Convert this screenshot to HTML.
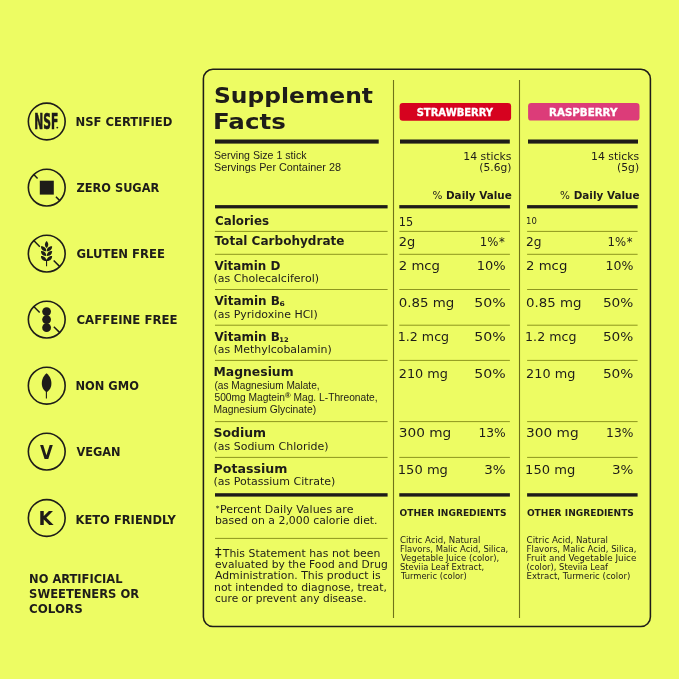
<!DOCTYPE html>
<html><head><meta charset="utf-8"><title>Supplement Facts</title>
<style>html,body{margin:0;padding:0;background:#edfc63;width:679px;height:679px;overflow:hidden}svg{display:block}</style>
</head><body><svg width="679" height="679" viewBox="0 0 679 679" font-family="'DejaVu Sans', 'Liberation Sans', sans-serif" fill="#1e1c19"><rect width="679" height="679" fill="#edfc63"/><rect x="203.4" y="69.3" width="447.0" height="557.2" rx="9.5" fill="none" stroke="#1e1c19" stroke-width="1.55"/><line x1="393.5" y1="80" x2="393.5" y2="618" stroke="#6f7219" stroke-width="1.1"/><line x1="519.5" y1="80" x2="519.5" y2="618" stroke="#6f7219" stroke-width="1.1"/><rect x="399.6" y="103" width="111.5" height="17.8" rx="3.2" fill="#d6021f"/><rect x="528.1" y="103.1" width="111.4" height="17.5" rx="3.2" fill="#dc3c79"/><rect x="215" y="139.5" width="163.7" height="4.1" fill="#1e1c19"/><rect x="400" y="139.5" width="109.8" height="4.1" fill="#1e1c19"/><rect x="528" y="139.5" width="110" height="4.1" fill="#1e1c19"/><rect x="215" y="205.1" width="172.6" height="3.3" fill="#1e1c19"/><rect x="215" y="493.2" width="172.6" height="3.4" fill="#1e1c19"/><rect x="399.3" y="205.1" width="110.6" height="3.3" fill="#1e1c19"/><rect x="399.3" y="493.2" width="110.6" height="3.4" fill="#1e1c19"/><rect x="527.1" y="205.1" width="110.5" height="3.3" fill="#1e1c19"/><rect x="527.1" y="493.2" width="110.5" height="3.4" fill="#1e1c19"/><rect x="215" y="230.9" width="172.6" height="1" fill="#8d961f"/><rect x="399.3" y="230.9" width="110.6" height="1" fill="#8d961f"/><rect x="527.1" y="230.9" width="110.5" height="1" fill="#8d961f"/><rect x="215" y="253.8" width="172.6" height="1" fill="#8d961f"/><rect x="399.3" y="253.8" width="110.6" height="1" fill="#8d961f"/><rect x="527.1" y="253.8" width="110.5" height="1" fill="#8d961f"/><rect x="215" y="289.0" width="172.6" height="1" fill="#8d961f"/><rect x="399.3" y="289.0" width="110.6" height="1" fill="#8d961f"/><rect x="527.1" y="289.0" width="110.5" height="1" fill="#8d961f"/><rect x="215" y="324.7" width="172.6" height="1" fill="#8d961f"/><rect x="399.3" y="324.7" width="110.6" height="1" fill="#8d961f"/><rect x="527.1" y="324.7" width="110.5" height="1" fill="#8d961f"/><rect x="215" y="359.9" width="172.6" height="1" fill="#8d961f"/><rect x="399.3" y="359.9" width="110.6" height="1" fill="#8d961f"/><rect x="527.1" y="359.9" width="110.5" height="1" fill="#8d961f"/><rect x="215" y="421.1" width="172.6" height="1" fill="#8d961f"/><rect x="399.3" y="421.1" width="110.6" height="1" fill="#8d961f"/><rect x="527.1" y="421.1" width="110.5" height="1" fill="#8d961f"/><rect x="215" y="456.9" width="172.6" height="1" fill="#8d961f"/><rect x="399.3" y="456.9" width="110.6" height="1" fill="#8d961f"/><rect x="527.1" y="456.9" width="110.5" height="1" fill="#8d961f"/><rect x="215" y="537.9" width="172.6" height="1" fill="#8d961f"/><circle cx="46.75" cy="121.5" r="18.4" fill="none" stroke="#1e1c19" stroke-width="1.6"/><text x="34.3" y="128.5" font-family="DejaVu Sans Condensed, DejaVu Sans, sans-serif" font-weight="700" font-size="20.7" textLength="24.0" lengthAdjust="spacingAndGlyphs" fill="#1e1c19" stroke="#1e1c19" stroke-width="0.6">NSF</text><circle cx="57.3" cy="127.6" r="0.95" fill="#1e1c19"/><circle cx="46.75" cy="187.6" r="18.4" fill="none" stroke="#1e1c19" stroke-width="1.6"/><path d="M33.74 174.59L37.56 178.41M55.94 196.79L59.76 200.61" stroke="#1e1c19" stroke-width="1.5" fill="none"/><rect x="39.8" y="180.7" width="14" height="13.9" fill="#1e1c19"/><circle cx="46.75" cy="253.6" r="18.4" fill="none" stroke="#1e1c19" stroke-width="1.6"/><path d="M33.74 240.59L39.82 246.67M53.68 260.53L59.76 266.61" stroke="#1e1c19" stroke-width="1.5" fill="none"/><g fill="#1e1c19"><path d="M46.55 241.0C48.8 243 48.8 246.2 46.55 248.0C44.3 246.2 44.3 243 46.55 241.0Z"/><path d="M41.0 246.2C44.6 246.1 46.6 248.6 46.2 251.2C42.9 251.29999999999998 40.8 249.1 41.0 246.2Z"/><path d="M52.1 246.2C48.5 246.1 46.5 248.6 46.9 251.2C50.2 251.29999999999998 52.3 249.1 52.1 246.2Z"/><path d="M41.0 251.0C44.6 250.9 46.6 253.4 46.2 256.0C42.9 256.1 40.8 253.9 41.0 251.0Z"/><path d="M52.1 251.0C48.5 250.9 46.5 253.4 46.9 256.0C50.2 256.1 52.3 253.9 52.1 251.0Z"/><path d="M41.0 255.9C44.6 255.8 46.6 258.3 46.2 260.9C42.9 261.0 40.8 258.8 41.0 255.9Z"/><path d="M52.1 255.9C48.5 255.8 46.5 258.3 46.9 260.9C50.2 261.0 52.3 258.8 52.1 255.9Z"/></g><line x1="46.55" y1="259.5" x2="46.55" y2="266.3" stroke="#1e1c19" stroke-width="1.1"/><circle cx="46.75" cy="319.6" r="18.4" fill="none" stroke="#1e1c19" stroke-width="1.6"/><path d="M33.74 306.59L39.68 312.53M53.82 326.67L59.76 332.61" stroke="#1e1c19" stroke-width="1.5" fill="none"/><circle cx="46.6" cy="311.6" r="4.4" fill="#1e1c19"/><circle cx="46.6" cy="319.6" r="4.4" fill="#1e1c19"/><circle cx="46.6" cy="327.7" r="4.4" fill="#1e1c19"/><circle cx="46.75" cy="385.7" r="18.4" fill="none" stroke="#1e1c19" stroke-width="1.6"/><path d="M46.6 373.2C50.5 376.5 52.3 381.5 51.0 386.5C50.2 389.3 48.5 391.0 46.6 392.2C44.7 391.0 43.0 389.3 42.2 386.5C40.9 381.5 42.7 376.5 46.6 373.2Z" fill="#1e1c19"/><line x1="46.4" y1="391" x2="46.4" y2="398.6" stroke="#1e1c19" stroke-width="1.1"/><circle cx="46.75" cy="451.6" r="18.4" fill="none" stroke="#1e1c19" stroke-width="1.6"/><text x="46.5" y="459" font-size="19.3" font-weight="700" text-anchor="middle" textLength="12.9" lengthAdjust="spacingAndGlyphs" fill="#1e1c19">V</text><circle cx="46.75" cy="518.0" r="18.4" fill="none" stroke="#1e1c19" stroke-width="1.6"/><text x="38.6" y="524.9" font-size="19" font-weight="700" textLength="14.6" lengthAdjust="spacingAndGlyphs" fill="#1e1c19">K</text><text x="75.5" y="125.8" font-size="11.4" font-weight="700" textLength="96.9" lengthAdjust="spacingAndGlyphs">NSF CERTIFIED</text><text x="76.5" y="191.9" font-size="11.4" font-weight="700" textLength="82.8" lengthAdjust="spacingAndGlyphs">ZERO SUGAR</text><text x="76.5" y="257.6" font-size="11.4" font-weight="700" textLength="88.4" lengthAdjust="spacingAndGlyphs">GLUTEN FREE</text><text x="76.5" y="324.0" font-size="11.4" font-weight="700" textLength="101.0" lengthAdjust="spacingAndGlyphs">CAFFEINE FREE</text><text x="75.5" y="390.4" font-size="11.4" font-weight="700" textLength="63.4" lengthAdjust="spacingAndGlyphs">NON GMO</text><text x="76.5" y="455.7" font-size="11.4" font-weight="700" textLength="44.1" lengthAdjust="spacingAndGlyphs">VEGAN</text><text x="75.5" y="523.7" font-size="11.4" font-weight="700" textLength="100.3" lengthAdjust="spacingAndGlyphs">KETO FRIENDLY</text><text x="29.1" y="583.0" font-size="11.4" font-weight="700" textLength="93.4" lengthAdjust="spacingAndGlyphs">NO ARTIFICIAL</text><text x="29.1" y="598.0" font-size="11.4" font-weight="700" textLength="110.0" lengthAdjust="spacingAndGlyphs">SWEETENERS OR</text><text x="29.1" y="613.0" font-size="11.4" font-weight="700" textLength="53.6" lengthAdjust="spacingAndGlyphs">COLORS</text><text x="214.0" y="103.0" font-size="21.3" font-weight="700" textLength="159.0" lengthAdjust="spacingAndGlyphs">Supplement</text><text x="213.0" y="129.0" font-size="21.3" font-weight="700" textLength="72.8" lengthAdjust="spacingAndGlyphs">Facts</text><text x="214.0" y="159.4" font-size="10.4" textLength="92.5" lengthAdjust="spacingAndGlyphs" font-family="Liberation Sans, sans-serif">Serving Size 1 stick</text><text x="214.0" y="171.0" font-size="10.4" textLength="127.0" lengthAdjust="spacingAndGlyphs" font-family="Liberation Sans, sans-serif">Servings Per Container 28</text><text x="454.9" y="115.5" font-size="9.7" font-weight="700" text-anchor="middle" textLength="76.4" lengthAdjust="spacingAndGlyphs" fill="#ffffff" stroke="#ffffff" stroke-width="0.3">STRAWBERRY</text><text x="583.25" y="115.5" font-size="9.7" font-weight="700" text-anchor="middle" textLength="68.3" lengthAdjust="spacingAndGlyphs" fill="#ffffff" stroke="#ffffff" stroke-width="0.3">RASPBERRY</text><text x="511.4" y="159.6" font-size="10" text-anchor="end" textLength="48.1" lengthAdjust="spacingAndGlyphs">14 sticks</text><text x="511.4" y="170.6" font-size="10" text-anchor="end" textLength="32.1" lengthAdjust="spacingAndGlyphs">(5.6g)</text><text x="511.8" y="198.6" font-size="10.2" font-weight="700" text-anchor="end" textLength="79.4" lengthAdjust="spacingAndGlyphs"><tspan font-weight="400">%</tspan> Daily Value</text><text x="639.1" y="159.6" font-size="10" text-anchor="end" textLength="48.1" lengthAdjust="spacingAndGlyphs">14 sticks</text><text x="639.1" y="170.6" font-size="10" text-anchor="end" textLength="22.1" lengthAdjust="spacingAndGlyphs">(5g)</text><text x="639.5" y="198.6" font-size="10.2" font-weight="700" text-anchor="end" textLength="79.4" lengthAdjust="spacingAndGlyphs"><tspan font-weight="400">%</tspan> Daily Value</text><text x="215.0" y="225.0" font-size="12" font-weight="700" textLength="54.0" lengthAdjust="spacingAndGlyphs">Calories</text><text x="214.5" y="245.4" font-size="12" font-weight="700" textLength="130.0" lengthAdjust="spacingAndGlyphs">Total Carbohydrate</text><text x="214.5" y="269.6" font-size="12" font-weight="700" textLength="65.9" lengthAdjust="spacingAndGlyphs">Vitamin D</text><text x="214.5" y="305.0" font-size="12" font-weight="700" textLength="65.4" lengthAdjust="spacingAndGlyphs">Vitamin B</text><text x="279.4" y="306.3" font-size="6.4" font-weight="700" textLength="5.3" lengthAdjust="spacingAndGlyphs">6</text><text x="214.5" y="340.8" font-size="12" font-weight="700" textLength="65.4" lengthAdjust="spacingAndGlyphs">Vitamin B</text><text x="279.2" y="341.9" font-size="6.4" font-weight="700" textLength="9.4" lengthAdjust="spacingAndGlyphs">12</text><text x="213.5" y="375.8" font-size="12" font-weight="700" textLength="80.1" lengthAdjust="spacingAndGlyphs">Magnesium</text><text x="213.5" y="437.3" font-size="12" font-weight="700" textLength="52.6" lengthAdjust="spacingAndGlyphs">Sodium</text><text x="213.5" y="472.5" font-size="12" font-weight="700" textLength="74.0" lengthAdjust="spacingAndGlyphs">Potassium</text><text x="213.5" y="282.0" font-size="11" textLength="105.5" lengthAdjust="spacingAndGlyphs">(as Cholecalciferol)</text><text x="213.5" y="317.5" font-size="11" textLength="104.2" lengthAdjust="spacingAndGlyphs">(as Pyridoxine HCl)</text><text x="213.5" y="353.1" font-size="11" textLength="118.3" lengthAdjust="spacingAndGlyphs">(as Methylcobalamin)</text><text x="214.5" y="388.7" font-size="10" textLength="105.1" lengthAdjust="spacingAndGlyphs" font-family="Liberation Sans, sans-serif">(as Magnesium Malate,</text><text x="214.5" y="401.1" font-size="10" textLength="163.1" lengthAdjust="spacingAndGlyphs" font-family="Liberation Sans, sans-serif">500mg Magtein<tspan font-size='7.5' font-weight='700' dy='-3'>®</tspan><tspan dy='3'> Mag. L-Threonate,</tspan></text><text x="213.5" y="413.4" font-size="10" textLength="102.6" lengthAdjust="spacingAndGlyphs" font-family="Liberation Sans, sans-serif">Magnesium Glycinate)</text><text x="213.5" y="449.8" font-size="11" textLength="115.0" lengthAdjust="spacingAndGlyphs">(as Sodium Chloride)</text><text x="213.5" y="485.2" font-size="11" textLength="121.8" lengthAdjust="spacingAndGlyphs">(as Potassium Citrate)</text><text x="215.7" y="511.4" font-size="7.5" textLength="3.7" lengthAdjust="spacingAndGlyphs">*</text><text x="220.0" y="512.9" font-size="10" textLength="133.4" lengthAdjust="spacingAndGlyphs">Percent Daily Values are</text><text x="214.9" y="524.2" font-size="10" textLength="162.7" lengthAdjust="spacingAndGlyphs">based on a 2,000 calorie diet.</text><text x="215.0" y="557.4" font-size="14.5" textLength="6.6" lengthAdjust="spacingAndGlyphs">‡</text><text x="222.8" y="557.0" font-size="10" textLength="157.6" lengthAdjust="spacingAndGlyphs">This Statement has not been</text><text x="215.0" y="568.1" font-size="10" textLength="172.8" lengthAdjust="spacingAndGlyphs">evaluated by the Food and Drug</text><text x="215.0" y="579.3" font-size="10" textLength="165.6" lengthAdjust="spacingAndGlyphs">Administration. This product is</text><text x="214.0" y="590.8" font-size="10" textLength="172.9" lengthAdjust="spacingAndGlyphs">not intended to diagnose, treat,</text><text x="215.0" y="602.4" font-size="10" textLength="151.5" lengthAdjust="spacingAndGlyphs">cure or prevent any disease.</text><text x="398.8" y="246.0" font-size="12" textLength="16.5" lengthAdjust="spacingAndGlyphs">2g</text><text x="498.4" y="246.0" font-size="12" text-anchor="end" textLength="18.6" lengthAdjust="spacingAndGlyphs">1%</text><text x="499.0" y="246.3" font-size="12.5" textLength="5.8" lengthAdjust="spacingAndGlyphs">*</text><text x="398.8" y="269.9" font-size="12" textLength="41.2" lengthAdjust="spacingAndGlyphs">2 mcg</text><text x="505.7" y="269.9" font-size="12" text-anchor="end" textLength="28.9" lengthAdjust="spacingAndGlyphs">10%</text><text x="398.8" y="306.5" font-size="12" textLength="55.5" lengthAdjust="spacingAndGlyphs">0.85 mg</text><text x="505.7" y="306.5" font-size="12" text-anchor="end" textLength="31.5" lengthAdjust="spacingAndGlyphs">50%</text><text x="397.8" y="341.4" font-size="12" textLength="51.3" lengthAdjust="spacingAndGlyphs">1.2 mcg</text><text x="505.7" y="341.4" font-size="12" text-anchor="end" textLength="31.5" lengthAdjust="spacingAndGlyphs">50%</text><text x="398.8" y="377.6" font-size="12" textLength="49.2" lengthAdjust="spacingAndGlyphs">210 mg</text><text x="505.7" y="377.6" font-size="12" text-anchor="end" textLength="31.5" lengthAdjust="spacingAndGlyphs">50%</text><text x="398.8" y="437.2" font-size="12" textLength="52.5" lengthAdjust="spacingAndGlyphs">300 mg</text><text x="505.7" y="437.2" font-size="12" text-anchor="end" textLength="27.3" lengthAdjust="spacingAndGlyphs">13%</text><text x="397.8" y="474.4" font-size="12" textLength="50.1" lengthAdjust="spacingAndGlyphs">150 mg</text><text x="505.7" y="474.4" font-size="12" text-anchor="end" textLength="21.4" lengthAdjust="spacingAndGlyphs">3%</text><text x="399.6" y="515.6" font-size="8.5" font-weight="700" textLength="107.0" lengthAdjust="spacingAndGlyphs">OTHER INGREDIENTS</text><text x="526.1" y="246.0" font-size="12" textLength="15.5" lengthAdjust="spacingAndGlyphs">2g</text><text x="626.1" y="246.0" font-size="12" text-anchor="end" textLength="18.6" lengthAdjust="spacingAndGlyphs">1%</text><text x="626.7" y="246.3" font-size="12.5" textLength="5.8" lengthAdjust="spacingAndGlyphs">*</text><text x="526.1" y="269.9" font-size="12" textLength="41.2" lengthAdjust="spacingAndGlyphs">2 mcg</text><text x="633.4" y="269.9" font-size="12" text-anchor="end" textLength="27.9" lengthAdjust="spacingAndGlyphs">10%</text><text x="526.1" y="306.5" font-size="12" textLength="55.5" lengthAdjust="spacingAndGlyphs">0.85 mg</text><text x="633.4" y="306.5" font-size="12" text-anchor="end" textLength="30.5" lengthAdjust="spacingAndGlyphs">50%</text><text x="525.1" y="341.4" font-size="12" textLength="51.3" lengthAdjust="spacingAndGlyphs">1.2 mcg</text><text x="633.4" y="341.4" font-size="12" text-anchor="end" textLength="30.5" lengthAdjust="spacingAndGlyphs">50%</text><text x="526.1" y="377.6" font-size="12" textLength="49.2" lengthAdjust="spacingAndGlyphs">210 mg</text><text x="633.4" y="377.6" font-size="12" text-anchor="end" textLength="30.5" lengthAdjust="spacingAndGlyphs">50%</text><text x="526.1" y="437.2" font-size="12" textLength="52.5" lengthAdjust="spacingAndGlyphs">300 mg</text><text x="633.4" y="437.2" font-size="12" text-anchor="end" textLength="27.3" lengthAdjust="spacingAndGlyphs">13%</text><text x="525.1" y="474.4" font-size="12" textLength="50.1" lengthAdjust="spacingAndGlyphs">150 mg</text><text x="633.4" y="474.4" font-size="12" text-anchor="end" textLength="21.4" lengthAdjust="spacingAndGlyphs">3%</text><text x="526.9" y="515.6" font-size="8.5" font-weight="700" textLength="107.0" lengthAdjust="spacingAndGlyphs">OTHER INGREDIENTS</text><text x="398.8" y="225.8" font-size="12" textLength="14.4" lengthAdjust="spacingAndGlyphs">15</text><text x="526.1" y="224.4" font-size="9" textLength="10.8" lengthAdjust="spacingAndGlyphs">10</text><text x="399.9" y="542.8" font-size="8.6" textLength="80.5" lengthAdjust="spacingAndGlyphs">Citric Acid, Natural</text><text x="399.9" y="551.9" font-size="8.6" textLength="108.4" lengthAdjust="spacingAndGlyphs">Flavors, Malic Acid, Silica,</text><text x="400.9" y="560.9" font-size="8.6" textLength="98.3" lengthAdjust="spacingAndGlyphs">Vegetable Juice (color),</text><text x="399.9" y="570.1" font-size="8.6" textLength="84.3" lengthAdjust="spacingAndGlyphs">Steviia Leaf Extract,</text><text x="400.9" y="579.2" font-size="8.6" textLength="65.9" lengthAdjust="spacingAndGlyphs">Turmeric (color)</text><text x="526.6" y="542.8" font-size="8.6" textLength="81.4" lengthAdjust="spacingAndGlyphs">Citric Acid, Natural</text><text x="526.6" y="551.9" font-size="8.6" textLength="109.8" lengthAdjust="spacingAndGlyphs">Flavors, Malic Acid, Silica,</text><text x="526.6" y="560.9" font-size="8.6" textLength="109.8" lengthAdjust="spacingAndGlyphs">Fruit and Vegetable Juice</text><text x="526.6" y="570.1" font-size="8.6" textLength="81.4" lengthAdjust="spacingAndGlyphs">(color), Steviia Leaf</text><text x="526.6" y="579.2" font-size="8.6" textLength="103.8" lengthAdjust="spacingAndGlyphs">Extract, Turmeric (color)</text></svg></body></html>
